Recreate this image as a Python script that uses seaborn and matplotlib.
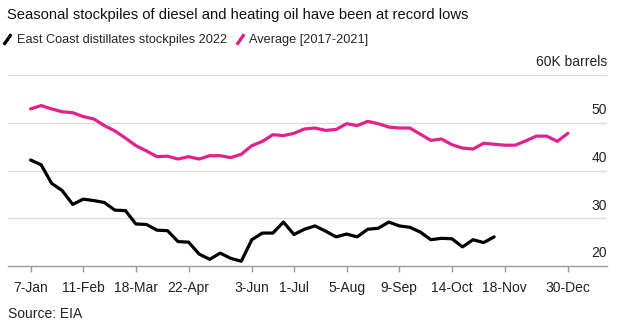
import matplotlib
matplotlib.use("Agg")
import matplotlib.pyplot as plt
from matplotlib.lines import Line2D
import matplotlib.transforms as mtransforms
import seaborn as sns
import pandas as pd

# ---- data ----
start_date = "2022-01-07"
stocks_2022 = [42.2, 41.2, 37.3, 35.8, 32.9, 34.0, 33.7, 33.3, 31.7, 31.6,
               28.8, 28.7, 27.5, 27.4, 25.1, 25.0, 22.5, 21.4, 22.7, 21.6,
               21.0, 25.5, 26.9, 26.9, 29.2, 26.6, 27.7, 28.4, 27.3, 26.1,
               26.7, 26.1, 27.7, 27.9, 29.2, 28.4, 28.1, 27.1, 25.5, 25.8,
               25.7, 24.0, 25.5, 24.9, 26.1]
average_17_21 = [52.9, 53.6, 52.9, 52.3, 52.1, 51.3, 50.8, 49.4, 48.3, 46.8,
                 45.2, 44.1, 42.9, 43.0, 42.4, 42.9, 42.4, 43.1, 43.1, 42.7,
                 43.4, 45.2, 46.1, 47.5, 47.3, 47.8, 48.7, 48.9, 48.4, 48.6,
                 49.8, 49.4, 50.3, 49.8, 49.1, 48.9, 48.9, 47.6, 46.3, 46.6,
                 45.4, 44.7, 44.5, 45.7, 45.5, 45.3, 45.3, 46.2, 47.2, 47.2,
                 46.1, 47.8]
tick_dates = ["2022-01-07", "2022-02-11", "2022-03-18", "2022-04-22", "2022-06-03",
              "2022-07-01", "2022-08-05", "2022-09-09", "2022-10-14", "2022-11-18",
              "2022-12-30"]
tick_labels = ["7-Jan", "11-Feb", "18-Mar", "22-Apr", "3-Jun", "1-Jul", "5-Aug",
               "9-Sep", "14-Oct", "18-Nov", "30-Dec"]
y_ticks = [20, 30, 40, 50, 60]
y_labels = ["20", "30", "40", "50", "60K barrels"]
series_names = ["East Coast distillates stockpiles 2022", "Average [2017-2021]"]
colors = ["#000000", "#e3218c"]

dates_avg = pd.date_range(start_date, periods=len(average_17_21), freq="7D")
dates_22 = pd.date_range(start_date, periods=len(stocks_2022), freq="7D")
df = pd.concat([
    pd.DataFrame({"date": dates_22, "value": stocks_2022, "series": series_names[0]}),
    pd.DataFrame({"date": dates_avg, "value": average_17_21, "series": series_names[1]}),
])

sns.set_theme(style="white")
plt.rcParams["font.family"] = ["Liberation Sans", "DejaVu Sans"]

fig = plt.figure(figsize=(6.31, 3.31), dpi=100)
ax = fig.add_axes([8 / 631, 65 / 331, 599 / 631, 191 / 331])

sns.lineplot(data=df, x="date", y="value", hue="series", palette=colors,
             hue_order=series_names, linewidth=2.3, ax=ax, legend=False,
             solid_joinstyle="round", solid_capstyle="round")

ax.set_xlim(pd.Timestamp(start_date) - pd.Timedelta(days=15),
            pd.Timestamp(start_date) + pd.Timedelta(days=383))
ax.set_ylim(20, 60)
ax.set_xlabel("")
ax.set_ylabel("")

ax.set_xticks([pd.Timestamp(d) for d in tick_dates])
ax.set_xticklabels(tick_labels, fontsize=10, color="#222222")
ax.tick_params(axis="x", direction="out", length=4, width=1, color="#999999", pad=7, bottom=True)
ax.set_yticks([])

for y in y_ticks[1:]:
    ax.axhline(y, color="#dddddd", lw=1, zorder=0)

for s in ["top", "left", "right"]:
    ax.spines[s].set_visible(False)
ax.spines["bottom"].set_color("#999999")
ax.spines["bottom"].set_linewidth(1)

trans = mtransforms.blended_transform_factory(ax.transAxes, ax.transData)
offset = mtransforms.ScaledTranslation(1 / 631, 4.0 / 72, fig.dpi_scale_trans)
for y, lab in zip(y_ticks, y_labels):
    ax.text(1.0, y, lab, transform=trans + offset, ha="right", va="bottom",
            fontsize=10, color="#222222")

fig.text(7 / 631, 1 - 15 / 331, "Seasonal stockpiles of diesel and heating oil have been at record lows",
         fontsize=10.6, color="#111111", va="center", ha="left")

handles = [Line2D([], [], color=c, marker=(2, 2, -35), markersize=9, markeredgewidth=2.0,
                  linestyle="none") for c in colors]
fig.legend(handles, series_names, loc="center left", bbox_to_anchor=(1 / 631, 1 - 40 / 331),
           ncol=2, frameon=False, handlelength=1.0, handletextpad=0.25,
           columnspacing=0.5, borderaxespad=0, borderpad=0,
           prop={"size": 9.2})

fig.text(8 / 631, 1 - 314 / 331, "Source: EIA", fontsize=10, color="#222222", va="center", ha="left")

fig.savefig("out.png", dpi=100)
